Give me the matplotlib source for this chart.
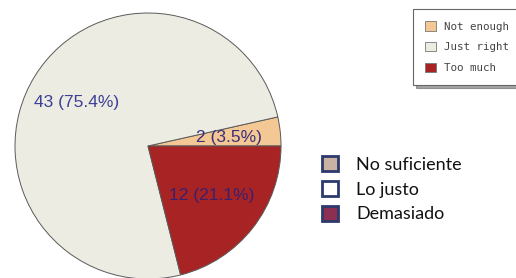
import matplotlib
matplotlib.use("Agg")
import matplotlib.pyplot as plt
from matplotlib.patches import Patch
import numpy as np

categories = ["Not enough", "Just right", "Too much"]
counts = [2, 43, 12]
percents = ["3.5%", "75.4%", "21.1%"]
spanish_labels = ["No suficiente", "Lo justo", "Demasiado"]

pie_colors = ["#F3C894", "#EDECE2", "#A82424"]
legend2_fills = ["#C9B1A3", "#FFFFFF", "#8C2F52"]

fig = plt.figure(figsize=(5.16, 2.78), dpi=100)
ax = fig.add_axes([0, 0, 1, 1])
ax.set_xlim(0, 516)
ax.set_ylim(0, 278)
ax.set_aspect("equal")
ax.axis("off")

wedges, _ = ax.pie(counts, colors=pie_colors, startangle=0, counterclock=True,
                   center=(148, 132), radius=133,
                   wedgeprops=dict(edgecolor="#5a5a5a", linewidth=0.7))
ax.set_xlim(0, 516)
ax.set_ylim(0, 278)

label_dist = [0.61, 0.63, 0.61]
label_colors = ["#3b2f7a", "#3c3f96", "#3a1f6e"]
for w, c, p, d, col in zip(wedges, counts, percents, label_dist, label_colors):
    ang = np.deg2rad((w.theta1 + w.theta2) / 2)
    x = 148 + d * 133 * np.cos(ang)
    y = 132 + d * 133 * np.sin(ang)
    ax.text(x, y, f"{c} ({p})", ha="center", va="center", fontsize=12.5,
            color=col, family="Liberation Sans")

leg1 = ax.legend(handles=[Patch(facecolor=c, edgecolor="#777777", linewidth=0.6) for c in pie_colors],
                 labels=categories, loc="upper left", bbox_to_anchor=(413/516, 1 - 9/278),
                 prop=dict(family="DejaVu Sans Mono", size=7.8), frameon=True,
                 fancybox=False, shadow=True, edgecolor="#666666",
                 handlelength=0.93, handleheight=0.93, handletextpad=0.74,
                 labelspacing=0.95, borderpad=1.15, borderaxespad=0)
leg1.get_frame().set_linewidth(0.8)
for t in leg1.get_texts():
    t.set_color("#444444")
ax.add_artist(leg1)

leg2 = ax.legend(handles=[Patch(facecolor=c, edgecolor="#2c3a6e", linewidth=2.0) for c in legend2_fills],
                 labels=spanish_labels, loc="upper left", bbox_to_anchor=(322/516, 1 - 156/278),
                 prop=dict(family="Lato", size=13), frameon=False,
                 handlelength=0.9, handleheight=0.9, handletextpad=1.0,
                 labelspacing=0.45, borderpad=0, borderaxespad=0)
for t in leg2.get_texts():
    t.set_color("#111111")

fig.savefig("out.png", dpi=100)
